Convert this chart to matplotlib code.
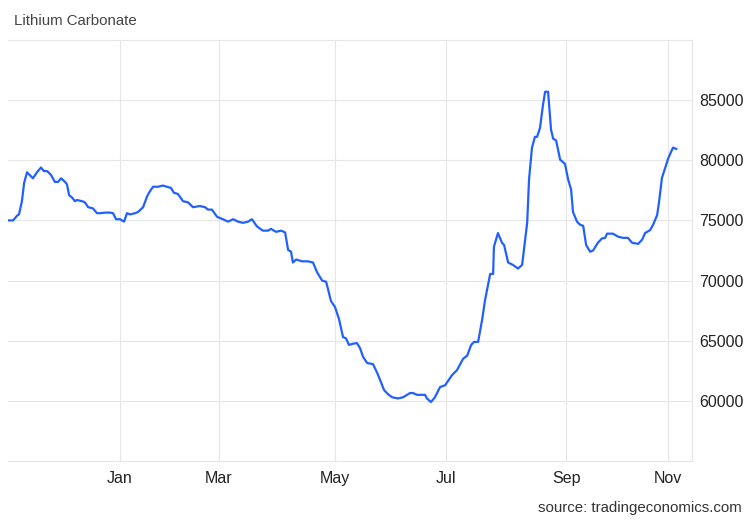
import matplotlib
matplotlib.use('Agg')
import matplotlib.pyplot as plt

# trading-day index (start of window = 0) and price
day = [0.0, 1.9, 3.4, 4.1, 5.2, 6.0, 7.1, 9.3, 10.8, 12.3, 13.4, 14.6, 16.0, 17.5, 18.7,
       19.8, 21.3, 22.0, 22.8, 23.9, 25.0, 25.7, 27.6, 28.7, 29.9, 31.7, 33.2, 34.3, 36.2,
       38.1, 39.2, 40.3, 41.8, 43.3, 44.4, 45.5, 47.4, 48.5, 50.4, 51.9, 52.6, 54.1, 56.0,
       57.8, 59.3, 60.8, 61.9, 63.4, 65.3, 67.2, 69.0, 71.6, 73.5, 74.6, 76.1, 78.0, 80.2,
       82.1, 84.0, 85.8, 87.7, 89.6, 91.0, 92.9, 95.1, 97.0, 98.1, 100.0, 101.9, 103.4,
       104.5, 105.6, 106.3, 107.5, 109.7, 111.9, 113.8, 115.3, 117.2, 118.7, 120.5, 122.0,
       123.5, 125.0, 126.1, 127.2, 128.7, 130.2, 131.3, 132.5, 134.0, 136.2, 138.1, 140.3,
       141.8, 143.3, 145.5, 147.4, 150.0, 151.1, 152.6, 155.6, 156.3, 157.8, 159.3, 161.2,
       163.1, 165.7, 167.5, 169.8, 171.3, 172.8, 173.9, 175.4, 176.9, 178.0, 179.1, 179.9,
       181.0, 181.3, 182.8, 184.3, 185.1, 186.6, 188.4, 190.3, 191.8, 192.2, 193.7, 194.4,
       195.5, 196.6, 197.4, 198.5, 199.6, 200.4, 201.5, 202.6, 203.4, 204.5, 206.0, 207.8,
       209.0, 210.1, 210.8, 212.3, 213.4, 214.6, 215.7, 217.2, 218.3, 220.1, 221.6, 222.8,
       223.5, 225.7, 227.6, 229.5, 231.3, 232.8, 235.1, 236.6, 237.7, 239.6, 240.7, 242.2,
       243.0, 244.0, 245.1, 246.3, 248.1, 249.3]
price = [75000, 75000, 75400, 75500, 76600, 78100, 79000, 78500, 79000, 79400, 79100, 79100,
         78800, 78200, 78200, 78500, 78200, 78000, 77100, 76900, 76600, 76700, 76600, 76500,
         76100, 76000, 75600, 75600, 75650, 75650, 75600, 75100, 75100, 74900, 75600, 75500,
         75600, 75700, 76100, 77000, 77300, 77800, 77800, 77900, 77800, 77700, 77300, 77200,
         76600, 76500, 76100, 76200, 76100, 75900, 75900, 75300, 75100, 74900, 75100, 74900,
         74800, 74900, 75100, 74500, 74150, 74150, 74300, 74050, 74150, 74000, 72550, 72400,
         71500, 71750, 71600, 71600, 71500, 70700, 70000, 69900, 68300, 67800, 66800, 65300,
         65200, 64650, 64750, 64800, 64400, 63650, 63150, 63050, 62150, 60900, 60550, 60300,
         60200, 60300, 60650, 60650, 60500, 60500, 60200, 59900, 60300, 61150, 61300, 62150,
         62550, 63500, 63750, 64650, 64900, 64900, 66750, 68400, 69650, 70550, 70550, 72800,
         73950, 73150, 72950, 71500, 71300, 71000, 71300, 72000, 74800, 78400, 81050, 81950,
         81950, 82700, 84600, 85700, 85700, 82550, 81800, 81650, 80050, 79700, 78400, 77550,
         75700, 74900, 74650, 74550, 72950, 72400, 72500, 73150, 73500, 73550, 73900, 73900,
         73650, 73550, 73550, 73150, 73050, 73400, 73950, 74200, 74650, 75450, 76700, 78550,
         79300, 80150, 81050, 80950]

month_labels = ['Jan', 'Mar', 'May', 'Jul', 'Sep', 'Nov']
month_pos = [41.8, 78.7, 122.0, 163.4, 208.2, 246.3]
y_ticks = [60000, 65000, 70000, 75000, 80000, 85000]

plt.rcParams['font.family'] = ['Liberation Sans', 'DejaVu Sans']
grid_c = '#e6e6e6'

fig = plt.figure(figsize=(7.52, 5.21), dpi=100)
ax = fig.add_axes([8 / 752, 1 - 461 / 521, 684 / 752, 421 / 521])

ax.plot(day, price, color='#2160ff', lw=1.6, solid_joinstyle='round')

ax.set_xlim(0, 255.2)
ax.set_ylim(55000, 90000)
ax.set_xticks(month_pos)
ax.set_xticklabels(month_labels)
ax.set_yticks(y_ticks)
ax.set_yticklabels([str(v) for v in y_ticks])
ax.yaxis.tick_right()
ax.tick_params(axis='both', length=0, labelsize=11.5, colors='#222222')
ax.tick_params(axis='x', pad=7)
ax.tick_params(axis='y', pad=5)

ax.grid(True, color=grid_c, lw=0.8)
ax.set_axisbelow(True)
ax.spines['left'].set_visible(False)
for s in ['top', 'bottom', 'right']:
    ax.spines[s].set_color(grid_c)
    ax.spines[s].set_linewidth(0.8)

fig.text(14 / 752, 1 - 21 / 521, 'Lithium Carbonate', fontsize=10.8, color='#444444',
         ha='left', va='center')
fig.text(742 / 752, 1 - 508 / 521, 'source: tradingeconomics.com', fontsize=10.8,
         color='#333333', ha='right', va='center')

fig.savefig('out.png', dpi=100)
